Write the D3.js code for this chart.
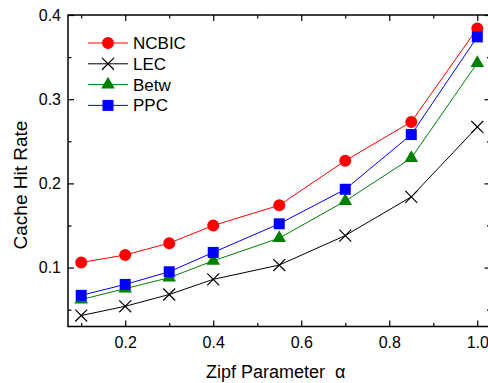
<!DOCTYPE html>
<html>
<head>
<meta charset="utf-8">
<script src="https://cdn.jsdelivr.net/npm/d3@7"></script>
<style>
	body { margin: 0; background: #fff; }
	text { font-family: Arial, "Liberation Sans", sans-serif; }
</style>
</head>
<body>
<svg id="chart" width="488" height="383"></svg>
<script>
// data
const alphas = [0.1, 0.2, 0.3, 0.4, 0.55, 0.7, 0.85, 1.0];
const ncbic = [0.106, 0.115, 0.129, 0.150, 0.174, 0.227, 0.273, 0.384];
const lec = [0.043, 0.054, 0.068, 0.086, 0.103, 0.138, 0.184, 0.267];
const betw = [0.062, 0.075, 0.088, 0.108, 0.135, 0.179, 0.230, 0.343];
const ppc = [0.067, 0.080, 0.095, 0.118, 0.152, 0.193, 0.258, 0.374];
const seriesNames = ['NCBIC', 'LEC', 'Betw', 'PPC'];
const xTicks = [0.2, 0.4, 0.6, 0.8, 1.0];
const xMinor = [0.1, 0.3, 0.5, 0.7, 0.9];
const yTicks = [0.1, 0.2, 0.3, 0.4];
const yMinor = [0.05, 0.15, 0.25, 0.35];

const series = [
	{name: seriesNames[0], values: ncbic, color: '#ff0000', shape: 'circle'},
	{name: seriesNames[1], values: lec, color: '#000000', shape: 'cross'},
	{name: seriesNames[2], values: betw, color: '#008000', shape: 'triangle'},
	{name: seriesNames[3], values: ppc, color: '#0000ff', shape: 'square'}
];

const svg = d3.select('#chart');
const plotLeft = 68, plotRight = 490.5, plotTop = 15, plotBottom = 326.5;

const x = d3.scaleLinear().domain([0.07, 1.03]).range([plotLeft, plotRight]);
const y = d3.scaleLinear().domain([0.03, 0.4]).range([plotBottom, plotTop]);

// axes, ticks pointing inward
function styleAxis(g) {
	g.select('.domain').remove();
	g.selectAll('line').attr('stroke', '#000').attr('stroke-width', 1.2);
	g.selectAll('text').attr('font-size', 16).attr('fill', '#000');
}

svg.append('g').attr('transform', `translate(0,${plotBottom})`)
	.call(d3.axisBottom(x).tickValues(xTicks).tickSize(-6).tickPadding(10).tickFormat(d3.format('.1f')))
	.call(styleAxis);
svg.append('g').attr('transform', `translate(0,${plotBottom})`)
	.call(d3.axisBottom(x).tickValues(xMinor).tickSize(-3.5).tickFormat(''))
	.call(styleAxis);
svg.append('g').attr('transform', `translate(0,${plotTop})`)
	.call(d3.axisTop(x).tickValues(xTicks).tickSize(-6).tickFormat(''))
	.call(styleAxis);
svg.append('g').attr('transform', `translate(0,${plotTop})`)
	.call(d3.axisTop(x).tickValues(xMinor).tickSize(-3.5).tickFormat(''))
	.call(styleAxis);

svg.append('g').attr('transform', `translate(${plotLeft},0)`)
	.call(d3.axisLeft(y).tickValues(yTicks).tickSize(-6).tickPadding(7).tickFormat(d3.format('.1f')))
	.call(styleAxis);
svg.append('g').attr('transform', `translate(${plotLeft},0)`)
	.call(d3.axisLeft(y).tickValues(yMinor).tickSize(-3.5).tickFormat(''))
	.call(styleAxis);
svg.append('g').attr('transform', `translate(${plotRight},0)`)
	.call(d3.axisRight(y).tickValues(yTicks).tickSize(-6).tickFormat(''))
	.call(styleAxis);
svg.append('g').attr('transform', `translate(${plotRight},0)`)
	.call(d3.axisRight(y).tickValues(yMinor).tickSize(-3.5).tickFormat(''))
	.call(styleAxis);

svg.append('rect')
	.attr('x', plotLeft).attr('y', plotTop)
	.attr('width', plotRight - plotLeft).attr('height', plotBottom - plotTop)
	.attr('fill', 'none').attr('stroke', '#000').attr('stroke-width', 1.5);

// markers
const symbolFor = {
	circle: d3.symbol(d3.symbolCircle, 113),
	cross: d3.symbol(d3.symbolX, 95),
	triangle: d3.symbol(d3.symbolTriangle, 80),
	square: d3.symbol(d3.symbolSquare, 121)
};

function drawMarker(g, s, cx, cy) {
	const p = g.append('path')
		.attr('d', symbolFor[s.shape]())
		.attr('transform', `translate(${cx},${cy})`);
	if (s.shape === 'cross') {
		p.attr('fill', 'none').attr('stroke', s.color).attr('stroke-width', 1.2);
	} else {
		p.attr('fill', s.color).attr('stroke', 'none');
	}
}

const line = d3.line().x(d => x(d[0])).y(d => y(d[1]));

series.forEach(s => {
	const pts = alphas.map((a, i) => [a, s.values[i]]);
	const g = svg.append('g');
	g.append('path')
		.datum(pts)
		.attr('d', line)
		.attr('fill', 'none')
		.attr('stroke', s.color)
		.attr('stroke-width', 1);
	pts.forEach(p => drawMarker(g, s, x(p[0]), y(p[1])));
});

// legend
const legend = svg.append('g');
series.forEach((s, i) => {
	const ly = 43 + i * 20.8;
	legend.append('line')
		.attr('x1', 88).attr('x2', 128)
		.attr('y1', ly).attr('y2', ly)
		.attr('stroke', s.color).attr('stroke-width', 1);
	drawMarker(legend, s, 108, ly);
	legend.append('text')
		.attr('x', 133).attr('y', ly + 6)
		.attr('font-size', 17)
		.text(s.name);
});

// axis titles
svg.append('text')
	.attr('x', 206).attr('y', 378)
	.attr('font-size', 18)
	.text('Zipf Parameter')
	.append('tspan')
	.attr('dx', 10)
	.text('α');

svg.append('text')
	.attr('transform', 'translate(27,185) rotate(-90)')
	.attr('text-anchor', 'middle')
	.attr('font-size', 19)
	.text('Cache Hit Rate');
</script>
</body>
</html>
